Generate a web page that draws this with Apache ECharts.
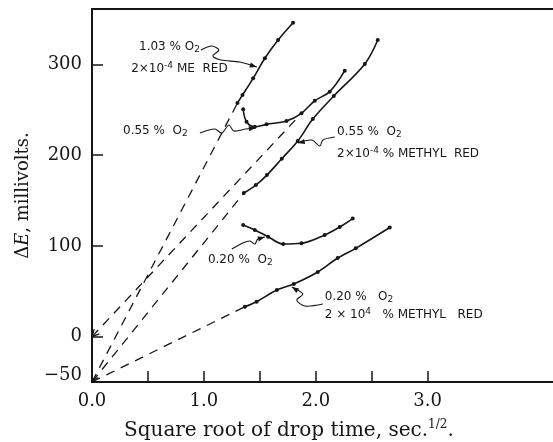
<!DOCTYPE html>
<html><head><meta charset="utf-8">
<script src="https://cdn.jsdelivr.net/npm/echarts@6/dist/echarts.min.js"></script>
<style>html,body{margin:0;padding:0;background:#fff}#c{width:553px;height:442px}</style>
</head><body><div id="c"></div>
<script>
// ---- data (x = square root of drop time, sec^1/2 ; y = ΔE, millivolts) ----
const sqrtT_103 = [1.30, 1.345, 1.44, 1.545, 1.663, 1.797];
const dE_103    = [257.4, 266.2, 284.6, 306.7, 326.8, 345.9];

const sqrtT_055 = [1.351, 1.381, 1.455, 1.560, 1.738, 1.872, 1.991, 2.125, 2.259];
const dE_055    = [250.5, 236.8, 231.3, 233.9, 237.6, 246.1, 259.9, 269.9, 293.0];

const sqrtT_055MR = [1.357, 1.464, 1.563, 1.696, 1.839, 1.973, 2.161, 2.438, 2.554];
const dE_055MR    = [158.2, 167.0, 178.0, 196.0, 215.5, 239.7, 265.1, 300.4, 326.8];

const sqrtT_020 = [1.351, 1.455, 1.574, 1.708, 1.872, 2.080, 2.214, 2.330];
const dE_020    = [123.0, 117.5, 110.1, 102.0, 102.8, 112.0, 120.8, 130.1];

const sqrtT_020MR = [1.366, 1.471, 1.652, 1.804, 2.018, 2.196, 2.357, 2.661];
const dE_020MR    = [32.9, 38.5, 51.3, 58.0, 71.2, 86.6, 97.3, 120.2];

// dashed extrapolations to zero drop time
const extrap_103   = [[0, -50], [1.30, 257.4]];
const extrap_055   = [[0, 0], [1.85, 243]];
const extrap_055MR = [[0, -50], [1.357, 158.2]];
const extrap_020MR = [[0, -50], [1.366, 32.9]];

// axis ticks / labels
const xTickValues  = [0.5, 1.0, 1.5, 2.0, 2.5, 3.0];
const xLabelValues = [0, 1, 2, 3];
const yTickValues  = [0, 100, 200, 300];
const yLabelValues = [-50, 0, 100, 200, 300];

// annotation texts (anchored in data units)
const noteTexts = [
  '{t|1.03 % O}{s|2}',
  '{t|2×10}{p|-4}{t| ME  RED}',
  '{t|0.55 %  O}{s|2}',
  '{t|0.55 %  O}{s|2}',
  '{t|2×10}{p|-4}{t| % METHYL  RED}',
  '{t|0.20 %  O}{s|2}',
  '{t|0.20 %   O}{s|2}',
  '{t|2 × 10}{p|4}{t|   % METHYL   RED}'
];
const noteAnchors = [[0.42, 319], [0.35, 295], [0.277, 226.6], [2.19, 225.4], [2.19, 201.2], [1.036, 84.4], [2.08, 43.6], [2.08, 23.8]];

// leader squiggles with arrows (data units)
const leaders = [
  [[0.973,315.8],[1.071,320.2],[1.134,315.8],[1.080,309.2],[1.152,304.8],[1.321,302.6],[1.473,297.1]],
  [[0.964,224.3],[1.098,228.7],[1.161,224.3],[1.223,233.2],[1.268,226.6],[1.375,228.8],[1.464,229.9]],
  [[2.170,219.9],[2.063,216.6],[2.036,210.0],[1.964,216.6],[1.839,213.3]],
  [[1.25,96.5],[1.348,103.1],[1.411,105.3],[1.455,102.0],[1.482,107.5],[1.545,109.7]],
  [[2.063,35.9],[1.902,33.7],[1.830,40.3],[1.884,46.9],[1.786,54.7]]
];

const zip = (a, b) => a.map((v, i) => [v, b[i]]);
const ink = '#161616';
const serif = 'DejaVu Serif';

function solid(name, xs, ys) {
  return { name, type: 'line', data: zip(xs, ys), smooth: 0.35, symbol: 'circle', symbolSize: 4,
    itemStyle: { color: ink }, lineStyle: { color: ink, width: 1.6 }, z: 3 };
}
function dashed(name, pts) {
  return { name, type: 'line', data: pts, symbol: 'none',
    lineStyle: { color: ink, width: 1.3, type: [9, 7] }, z: 2 };
}

const chart = echarts.init(document.getElementById('c'));
chart.setOption({
  animation: false,
  backgroundColor: '#fff',
  grid: { left: 92, right: 0, top: 9, bottom: 60 },
  xAxis: [{
    type: 'value', min: 0, max: 4.12, interval: 0.5,
    axisLine: { show: true, onZero: false, lineStyle: { color: ink, width: 2 } },
    axisTick: { show: true, inside: true, length: 11, customValues: xTickValues, lineStyle: { color: ink, width: 1.5 } },
    axisLabel: { customValues: xLabelValues, formatter: v => v.toFixed(1), margin: 10, color: ink, fontFamily: serif, fontSize: 18 },
    splitLine: { show: false }
  }, {
    type: 'value', position: 'top', min: 0, max: 4.12,
    axisLine: { show: true, onZero: false, lineStyle: { color: ink, width: 2 } },
    axisTick: { show: false }, axisLabel: { show: false }, splitLine: { show: false }
  }],
  yAxis: [{
    type: 'value', min: -50, max: 361, interval: 50,
    axisLine: { show: true, onZero: false, lineStyle: { color: ink, width: 2 } },
    axisTick: { show: true, inside: true, length: 11, customValues: yTickValues, lineStyle: { color: ink, width: 1.5 } },
    axisLabel: { customValues: yLabelValues,
      formatter: v => v < 0 ? '{lo|−50}' : String(v),
      rich: { lo: { fontFamily: serif, fontSize: 18, color: ink, padding: [0, 0, 14, 0] } },
      margin: 10, color: ink, fontFamily: serif, fontSize: 18 },
    splitLine: { show: false },
    name: '{d|Δ}{e|E}{d|, millivolts.}', nameLocation: 'middle', nameGap: 60, nameRotate: 90,
    nameTextStyle: { rich: {
      d: { fontFamily: serif, fontSize: 18, color: ink },
      e: { fontFamily: serif, fontSize: 18, fontStyle: 'italic', color: ink }
    } }
  }],
  series: [
    solid('1.03% O2, 2×10^-4 methyl red', sqrtT_103, dE_103),
    solid('0.55% O2', sqrtT_055, dE_055),
    solid('0.55% O2, 2×10^-4 % methyl red', sqrtT_055MR, dE_055MR),
    solid('0.20% O2', sqrtT_020, dE_020),
    solid('0.20% O2, 2×10^-4 % methyl red', sqrtT_020MR, dE_020MR),
    dashed('ext 1.03', extrap_103),
    dashed('ext 0.55', extrap_055),
    dashed('ext 0.55 MR', extrap_055MR),
    dashed('ext 0.20 MR', extrap_020MR)
  ]
});

// annotations
const px = p => chart.convertToPixel({ gridIndex: 0 }, p);
const rich = {
  t: { fontFamily: 'DejaVu Sans', fontSize: 12, lineHeight: 15, verticalAlign: 'middle', fill: ink, color: ink },
  s: { fontFamily: 'DejaVu Sans', fontSize: 9, lineHeight: 9, verticalAlign: 'bottom', fill: ink, color: ink },
  p: { fontFamily: 'DejaVu Sans', fontSize: 9, lineHeight: 9, verticalAlign: 'top', fill: ink, color: ink }
};
const graphics = [];
noteTexts.forEach((t, i) => {
  const p = px(noteAnchors[i]);
  graphics.push({ type: 'text', x: p[0], y: p[1], z: 10,
    style: { text: t, rich, fill: ink, align: 'left', verticalAlign: 'middle', fontFamily: 'DejaVu Sans', fontSize: 12 } });
});
function arrowHead(a, b, open) {
  const dx = b[0] - a[0], dy = b[1] - a[1], L = Math.hypot(dx, dy) || 1;
  const ux = dx / L, uy = dy / L, len = 7, hw = open ? 3.5 : 2.6;
  const p1 = [b[0] - ux * len - uy * hw, b[1] - uy * len + ux * hw];
  const p2 = [b[0] - ux * len + uy * hw, b[1] - uy * len - ux * hw];
  return open
    ? { type: 'polyline', z: 10, shape: { points: [p1, [b[0], b[1]], p2] }, style: { stroke: ink, lineWidth: 1.3, fill: null } }
    : { type: 'polygon', z: 10, shape: { points: [[b[0], b[1]], p1, p2] }, style: { fill: ink } };
}
leaders.forEach(path => {
  const pts = path.map(px);
  graphics.push({ type: 'polyline', z: 10, shape: { points: pts, smooth: 0.3 },
    style: { stroke: ink, lineWidth: 1.1, fill: null } });
  graphics.push(arrowHead(pts[pts.length - 2], pts[pts.length - 1], false));
});
// open arrowheads where the extrapolations meet the axis
[extrap_055, extrap_103].forEach(seg => {
  graphics.push(arrowHead(px(seg[1]), px(seg[0]), true));
});
// x axis title
graphics.push({ type: 'text', left: 124, top: 419, z: 10,
  style: { text: '{a|Square root of drop time, sec.}{b|1/2}{a|.}', rich: {
    a: { fontFamily: serif, fontSize: 20, lineHeight: 22, verticalAlign: 'bottom', fill: ink, color: ink },
    b: { fontFamily: serif, fontSize: 12, lineHeight: 22, verticalAlign: 'top', fill: ink, color: ink, padding: [0, 0, 7, 0] }
  } } });
chart.setOption({ graphic: graphics });
</script>
</body></html>
